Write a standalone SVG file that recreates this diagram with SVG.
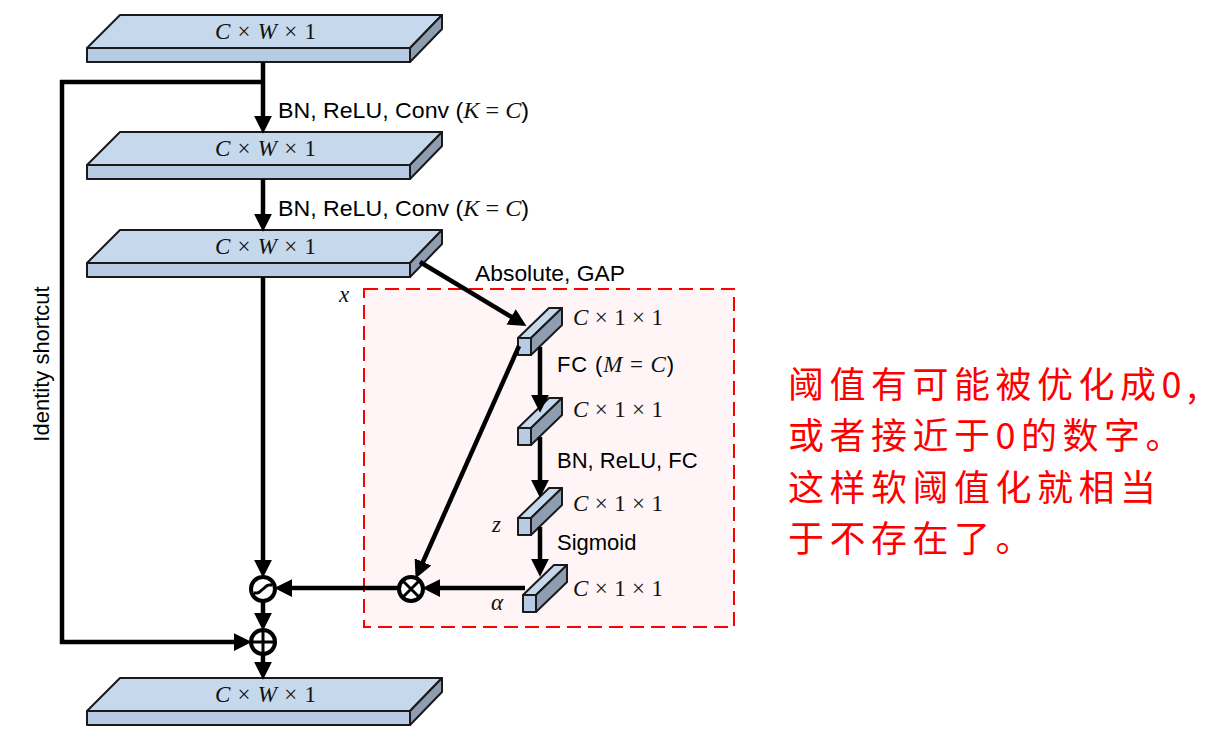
<svg xmlns="http://www.w3.org/2000/svg" width="1212" height="739" viewBox="0 0 1212 739">
<defs>
<marker id="ah" markerUnits="userSpaceOnUse" markerWidth="18" markerHeight="18" viewBox="0 0 16 16" refX="2" refY="8" orient="auto">
<path d="M0,0 L16,8 L0,16 z" fill="#000"/>
</marker>
</defs>
<style>
.top{fill:#c6d8ec;stroke:#1a1a1a;stroke-width:2;stroke-linejoin:round}
.front{fill:#b7cbe4;stroke:#1a1a1a;stroke-width:2;stroke-linejoin:round}
.side{fill:#8e9db0;stroke:#1a1a1a;stroke-width:2;stroke-linejoin:round}
.arr{fill:none;stroke:#000;stroke-width:4.5;marker-end:url(#ah)}
.op{fill:#fff;stroke:#000;stroke-width:4}
.opl{fill:none;stroke:#000;stroke-width:3}
.math{font-family:"Liberation Serif","DejaVu Serif",serif;font-size:23px;fill:#111}
.mi{font-style:italic}
.lbl{font-family:"Liberation Sans",Arial,sans-serif;font-size:22px;fill:#000}
.cn{font-family:"Noto Sans CJK SC",sans-serif;font-size:36px;fill:#ff0000;letter-spacing:5.5px}
</style>

<g id="se-box">
<rect x="364" y="289" width="370" height="338" fill="#fff5f6" stroke="#ff0000" stroke-width="2" stroke-dasharray="14,7"/>
</g>

<g id="slab1">
<polygon class="top" points="87,48 120,15 442,15 410,48"/>
<rect class="front" x="87" y="48" width="323" height="14"/>
<polygon class="side" points="410,48 442,15 442,29 410,62"/>
<text class="math" x="215" y="39" textLength="101" lengthAdjust="spacing"><tspan class="mi">C</tspan> × <tspan class="mi">W</tspan> × 1</text>
</g>
<g id="slab2" transform="translate(0,117)">
<polygon class="top" points="87,48 120,15 442,15 410,48"/>
<rect class="front" x="87" y="48" width="323" height="14"/>
<polygon class="side" points="410,48 442,15 442,29 410,62"/>
<text class="math" x="215" y="39" textLength="101" lengthAdjust="spacing"><tspan class="mi">C</tspan> × <tspan class="mi">W</tspan> × 1</text>
</g>
<g id="slab3" transform="translate(0,215)">
<polygon class="top" points="87,48 120,15 442,15 410,48"/>
<rect class="front" x="87" y="48" width="323" height="14"/>
<polygon class="side" points="410,48 442,15 442,29 410,62"/>
<text class="math" x="215" y="39" textLength="101" lengthAdjust="spacing"><tspan class="mi">C</tspan> × <tspan class="mi">W</tspan> × 1</text>
</g>
<g id="slab4" transform="translate(0,663)">
<polygon class="top" points="87,48 120,15 442,15 410,48"/>
<rect class="front" x="87" y="48" width="323" height="14"/>
<polygon class="side" points="410,48 442,15 442,29 410,62"/>
<text class="math" x="215" y="39" textLength="101" lengthAdjust="spacing"><tspan class="mi">C</tspan> × <tspan class="mi">W</tspan> × 1</text>
</g>

<g id="bar1">
<polygon class="top" points="518,338 549,308 562,308 531,338"/>
<polygon class="side" points="531,338 562,308 562,325 531,355"/>
<rect class="front" x="518" y="338" width="13" height="17"/>
</g>
<g id="bar2" transform="translate(0,90)">
<polygon class="top" points="518,338 549,308 562,308 531,338"/>
<polygon class="side" points="531,338 562,308 562,325 531,355"/>
<rect class="front" x="518" y="338" width="13" height="17"/>
</g>
<g id="bar3" transform="translate(0,180)">
<polygon class="top" points="518,338 549,308 562,308 531,338"/>
<polygon class="side" points="531,338 562,308 562,325 531,355"/>
<rect class="front" x="518" y="338" width="13" height="17"/>
</g>
<g id="bar4" transform="translate(5,257)">
<polygon class="top" points="518,338 549,308 562,308 531,338"/>
<polygon class="side" points="531,338 562,308 562,325 531,355"/>
<rect class="front" x="518" y="338" width="13" height="17"/>
</g>

<g id="connectors">
<line class="arr" x1="263" y1="62" x2="263" y2="118"/>
<path class="arr" d="M263,82 H62 V642 H236"/>
<line class="arr" x1="263" y1="179" x2="263" y2="216"/>
<line class="arr" x1="263" y1="277" x2="263" y2="562"/>
<line class="arr" x1="420" y1="262" x2="513" y2="318"/>
<line class="arr" x1="540" y1="347" x2="540" y2="397"/>
<line class="arr" x1="540" y1="437" x2="540" y2="482"/>
<line class="arr" x1="540" y1="527" x2="540" y2="561"/>
<line class="arr" x1="519" y1="346" x2="422" y2="564"/>
<line class="arr" x1="525" y1="588" x2="438" y2="588"/>
<line class="arr" x1="398" y1="588" x2="290" y2="588"/>
<line class="arr" x1="263" y1="601" x2="263" y2="615"/>
<line class="arr" x1="263" y1="654" x2="263" y2="664"/>
</g>

<g id="op-soft">
<circle class="op" cx="263" cy="589" r="12"/>
<path class="opl" d="M254,593 H257 C260,593 261,590 263,589 C265,588 266,585 269,585 H272"/>
</g>
<g id="op-mul">
<circle class="op" cx="411" cy="589" r="12"/>
<path class="opl" d="M403,581 L419,597 M419,581 L403,597"/>
</g>
<g id="op-add">
<circle class="op" cx="263" cy="642" r="12"/>
<path class="opl" d="M251,642 H275 M263,630 V654"/>
</g>

<g id="labels">
<text class="lbl" x="278" y="118" textLength="251" lengthAdjust="spacingAndGlyphs">BN, ReLU, Conv (<tspan class="math mi">K</tspan><tspan class="math"> = </tspan><tspan class="math mi">C</tspan>)</text>
<text class="lbl" x="278" y="216" textLength="251" lengthAdjust="spacingAndGlyphs">BN, ReLU, Conv (<tspan class="math mi">K</tspan><tspan class="math"> = </tspan><tspan class="math mi">C</tspan>)</text>
<text class="lbl" x="475" y="281" textLength="150" lengthAdjust="spacingAndGlyphs">Absolute, GAP</text>
<text class="math mi" x="339" y="302">x</text>
<text class="math" x="573" y="325" textLength="90" lengthAdjust="spacing"><tspan class="mi">C</tspan> × 1 × 1</text>
<text class="lbl" x="557" y="372" textLength="117" lengthAdjust="spacing">FC (<tspan class="math mi">M</tspan><tspan class="math"> = </tspan><tspan class="math mi">C</tspan>)</text>
<text class="math" x="573" y="417" textLength="90" lengthAdjust="spacing"><tspan class="mi">C</tspan> × 1 × 1</text>
<text class="lbl" x="557" y="468">BN, ReLU, FC</text>
<text class="math" x="573" y="511" textLength="90" lengthAdjust="spacing"><tspan class="mi">C</tspan> × 1 × 1</text>
<text class="math mi" x="492" y="532">z</text>
<text class="lbl" x="557" y="550">Sigmoid</text>
<text class="math" x="573" y="596" textLength="90" lengthAdjust="spacing"><tspan class="mi">C</tspan> × 1 × 1</text>
<text class="math mi" x="491" y="610">α</text>
<text class="lbl" x="49" y="364" font-size="21" text-anchor="middle" transform="rotate(-90 49 364)">Identity shortcut</text>
</g>

<g id="note">
<text class="cn" x="788" y="398">阈值有可能被优化成0,</text>
<text class="cn" x="788" y="449">或者接近于0的数字。</text>
<text class="cn" x="788" y="501">这样软阈值化就相当</text>
<text class="cn" x="788" y="552">于不存在了。</text>
</g>
</svg>
